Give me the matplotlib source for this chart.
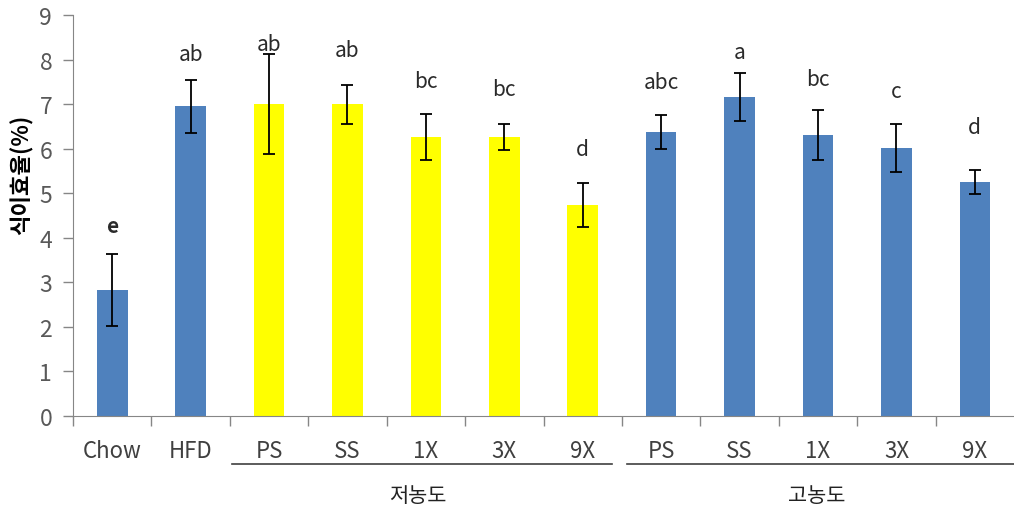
import matplotlib
matplotlib.use("Agg")
import matplotlib.pyplot as plt
import matplotlib.transforms as mtransforms

plt.rcParams['font.family'] = ['Noto Sans CJK KR', 'DejaVu Sans']

categories = ["Chow", "HFD", "PS", "SS", "1X", "3X", "9X", "PS", "SS", "1X", "3X", "9X"]
means = [2.83, 6.95, 7.00, 7.00, 6.26, 6.26, 4.74, 6.37, 7.16, 6.31, 6.02, 5.25]
errors = [0.80, 0.60, 1.12, 0.44, 0.51, 0.29, 0.50, 0.38, 0.53, 0.56, 0.54, 0.26]
letters = ["e", "ab", "ab", "ab", "bc", "bc", "d", "abc", "a", "bc", "c", "d"]
letter_y = [4.27, 8.13, 8.35, 8.22, 7.53, 7.33, 5.99, 7.50, 8.18, 7.56, 7.29, 6.48]
group_names = ["저농도", "고농도"]
group_spans = [(1.53, 6.37), (6.57, 11.5)]

blue = "#4F81BD"
yellow = "#FFFF00"
colors = [blue, blue] + [yellow] * 5 + [blue] * 5

fig = plt.figure(figsize=(10.14, 5.10), dpi=100)
ax = fig.add_axes([0.072, 0.1824, 0.928, 0.7862])

x = list(range(len(categories)))
ax.bar(x, means, width=0.39, color=colors, zorder=2)
ax.errorbar(x, means, yerr=errors, fmt="none", ecolor="black",
            elinewidth=1.3, capsize=4, capthick=1.3, zorder=3)

for xi, lab, ly in zip(x, letters, letter_y):
    ax.text(xi, ly, lab, ha="center", va="center", fontsize=15,
            color="#2a2a2a", fontweight="bold" if lab == "e" else "normal")

ax.set_xlim(-0.5, 11.5)
ax.set_ylim(0, 9)
ax.set_yticks(range(10))
ax.tick_params(axis="y", labelsize=16.5, labelcolor="#595959", color="#868686",
               length=7, width=1, pad=8)

# category boundaries as tick marks, labels centred under bars
ax.set_xticks([i + 0.5 for i in range(-1, 11)])
ax.set_xticklabels([])
ax.tick_params(axis="x", color="#868686", length=7, width=1)
trans = mtransforms.blended_transform_factory(ax.transData, ax.transAxes)
for xi, c in zip(x, categories):
    ax.text(xi, -0.087, c, transform=trans, ha="center", va="center",
            fontsize=16, color="#404040")

for s in ["top", "right"]:
    ax.spines[s].set_visible(False)
ax.spines["left"].set_color("#868686")
ax.spines["bottom"].set_color("#868686")

for name, (x0, x1) in zip(group_names, group_spans):
    ax.plot([x0, x1], [-0.12, -0.12], transform=trans, color="#404040",
            lw=1.2, clip_on=False)
    ax.text((x0 + x1) / 2 - 0.05, -0.197, name, transform=trans, ha="center",
            va="center", fontsize=15, color="#222222")

ax.set_ylabel("식이효율(%)", fontsize=16, fontweight="bold")
ax.yaxis.set_label_coords(-0.042, 0.605)

fig.savefig("out.png", dpi=100)
